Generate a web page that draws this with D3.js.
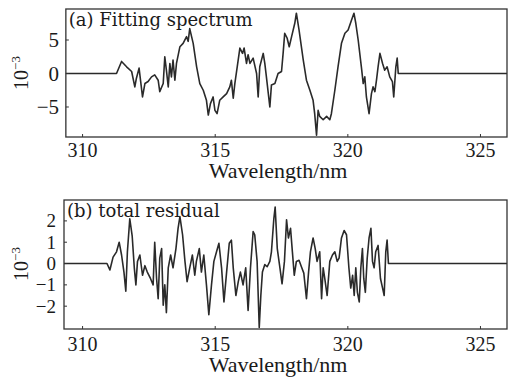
<!DOCTYPE html>
<html>
<head>
<meta charset="utf-8">
<script src="https://cdn.jsdelivr.net/npm/d3@7"></script>
<style>
  html, body { margin: 0; padding: 0; background: #fff; }
  svg { display: block; }
</style>
</head>
<body>
<figure id="chart" style="margin:0"></figure>
<script>
// (a) fitting spectrum, x in nm, y in 1e-3
const topWl = [
  309.37, 311.28, 311.47, 311.66, 311.85, 311.97, 312.03, 312.13, 312.26, 312.35,
  312.47, 312.60, 312.72, 312.85, 312.91, 313.04, 313.10, 313.16, 313.23, 313.29,
  313.35, 313.41, 313.48, 313.54, 313.67, 313.79, 313.92, 313.98, 314.04, 314.11,
  314.17, 314.30, 314.42, 314.55, 314.67, 314.74, 314.82, 314.92, 314.99, 315.07,
  315.17, 315.30, 315.43, 315.55, 315.61, 315.68, 315.74, 315.83, 315.93, 316.03,
  316.09, 316.18, 316.24, 316.31, 316.43, 316.56, 316.62, 316.68, 316.81, 316.87,
  316.93, 317.06, 317.12, 317.25, 317.37, 317.50, 317.56, 317.62, 317.71, 317.79,
  317.88, 318.00, 318.06, 318.16, 318.32, 318.44, 318.57, 318.69, 318.75, 318.82,
  318.88, 318.94, 319.07, 319.20, 319.32, 319.38, 319.51, 319.63, 319.76, 319.89,
  320.01, 320.14, 320.23, 320.30, 320.39, 320.51, 320.58, 320.64, 320.70, 320.80,
  320.89, 320.95, 321.02, 321.08, 321.14, 321.21, 321.31, 321.39, 321.48, 321.58,
  321.68, 321.73, 321.81, 321.86, 321.90, 326.00
];
const topVal = [
  0, 0, 1.8, 1.0, 0.3, -2.0, -0.7, 0.8, -3.5, -1.5,
  -1.2, -0.5, -0.2, -1.0, -2.7, -1.5, 2.5, 0.5, -2.0, 1.5,
  -0.5, 2.0, -1.0, 1.5, 4.0, 4.5, 5.5, 4.8, 6.7, 5.5,
  4.5, 1.0, -1.5, -2.5, -4.0, -6.2, -4.5, -3.5, -5.5, -6.0,
  -4.0, -3.5, -3.0, -2.0, -1.0, -3.7, -1.5, 1.0, 3.8, 3.0,
  3.8, 1.5, 2.8, 1.5, 2.3, 0.0, -3.5, 1.0, 3.0, 1.5,
  -0.5, -5.0, -1.7, -1.5, 0.0, 0.3, 3.0, 6.0, 5.3, 4.0,
  5.5, 7.5, 9.0, 6.5, 2.0, -1.0, -2.5, -4.0, -6.0, -9.2,
  -5.5, -6.4, -6.9, -6.4, -6.9, -6.0, -2.5, 1.0, 4.5, 6.0,
  6.5, 8.0, 9.0, 7.5, 5.0, 1.0, -1.5, -0.5, -3.5, -6.0,
  -3.0, -2.0, -2.7, -1.0, 1.0, 3.0, 1.5, 0.5, 1.0, -0.5,
  -1.2, -3.5, 1.0, 2.3, 0, 0
];

// (b) total residual
const resWl = [
  309.30, 310.92, 311.03, 311.15, 311.28, 311.38, 311.47, 311.56, 311.63, 311.69,
  311.78, 311.87, 311.95, 312.01, 312.07, 312.16, 312.26, 312.35, 312.44, 312.56,
  312.66, 312.72, 312.79, 312.85, 312.91, 312.98, 313.04, 313.10, 313.16, 313.23,
  313.32, 313.41, 313.52, 313.60, 313.67, 313.77, 313.86, 313.94, 314.04, 314.14,
  314.23, 314.29, 314.40, 314.48, 314.57, 314.67, 314.76, 314.86, 314.95, 315.05,
  315.14, 315.24, 315.33, 315.43, 315.53, 315.61, 315.68, 315.78, 315.87, 315.95,
  316.05, 316.15, 316.24, 316.33, 316.43, 316.49, 316.58, 316.66, 316.72, 316.78,
  316.87, 316.96, 317.06, 317.12, 317.21, 317.26, 317.34, 317.44, 317.52, 317.61,
  317.69, 317.76, 317.84, 317.91, 317.98, 318.06, 318.16, 318.25, 318.34, 318.44,
  318.52, 318.59, 318.69, 318.77, 318.84, 318.94, 319.01, 319.07, 319.13, 319.22,
  319.32, 319.42, 319.51, 319.60, 319.67, 319.76, 319.86, 319.95, 320.04, 320.11,
  320.18, 320.24, 320.30, 320.36, 320.43, 320.49, 320.55, 320.60, 320.66, 320.73,
  320.80, 320.87, 320.93, 320.99, 321.05, 321.14, 321.23, 321.31, 321.37, 321.43,
  321.48, 321.53, 326.00
];
const resVal = [
  0, 0, -0.3, 0.3, 0.55, 1.0, 0.4, -0.4, -1.3, 0.55,
  2.1, 1.3, -0.2, -1.0, 0.1, 0.4, -0.55, -0.1, -0.4, -0.7,
  -1.0, 1.0, -0.7, -1.65, 0.25, 0.7, -1.95, -1.0, -2.3, -0.2,
  0.4, -0.2, 0.7, 1.65, 2.2, 1.35, 0.1, -0.85, -0.2, 0.4,
  -0.55, 0.1, 0.7, -0.4, 0.4, -1.0, -2.4, -1.0, 0.1, 0.55,
  0.95, -0.2, -1.8, -0.4, 0.95, 1.1, -0.2, -1.5, -0.85, -0.4,
  -1.0, -0.2, -2.2, -0.2, 1.5, 1.35, 0.1, -3.0, -1.5, -0.4,
  -0.05, -0.15, 0.1, 0.55, 2.1, 2.65, 0.7, -0.2, -0.95, 0.1,
  2.05, 1.2, 1.65, 0.55, -0.55, 0.1, 0.15, -0.15, -0.45, -1.65,
  -0.4, 0.55, 1.2, 0.7, 0.1, 0.55, -1.65, -0.2, -0.7, -1.5,
  0.1, 0.4, 0.55, 0.1, 0.25, 1.2, 1.55, 1.35, -0.2, -1.15,
  -0.55, -1.5, -0.2, -1.35, -1.8, -0.2, 0.7, -0.7, -1.35, 0.25,
  1.2, 1.65, 0.1, -0.2, 0.55, 0.85, -0.7, -1.15, -1.5, 0.55,
  1.1, 0, 0
];

const xTicks = [310, 315, 320, 325];
const topYTicks = [5, 0, -5];
const resYTicks = [2, 1, 0, -1, -2];
const xTitle = "Wavelength/nm";

const width = 509, height = 378;
const serif = "Liberation Serif";
const serif2 = "DejaVu Serif";
const ink = "#1a1a1a";

const svg = d3.select("figure#chart")
  .append("svg")
  .attr("width", width)
  .attr("height", height);

// shared wavelength scale
const x = d3.scaleLinear().domain([309.30, 326.0]).range([64, 507]);

function drawPanel(opt) {
  const y = d3.scaleLinear().domain(opt.yDomain).range([opt.bottom, opt.top]);
  const left = x(opt.wl[0]);
  const right = x(326.0);
  const g = svg.append("g");

  // data line
  const pts = opt.wl.map((w, i) => [w, opt.val[i]]);
  g.append("path")
    .datum(pts)
    .attr("fill", "none")
    .attr("stroke", "#2a2a2a")
    .attr("stroke-width", 1.6)
    .attr("stroke-linejoin", "round")
    .attr("d", d3.line().x(d => x(d[0])).y(d => y(d[1])));

  // frame
  g.append("rect")
    .attr("x", left)
    .attr("y", opt.top)
    .attr("width", right - left)
    .attr("height", opt.bottom - opt.top)
    .attr("fill", "none")
    .attr("stroke", "#333")
    .attr("stroke-width", 1.3);

  // small inward ticks
  g.append("g").selectAll("line")
    .data(opt.yTicks)
    .join("line")
    .attr("x1", left).attr("x2", left + 3)
    .attr("y1", d => y(d)).attr("y2", d => y(d))
    .attr("stroke", "#333");

  g.append("g").selectAll("line")
    .data(xTicks)
    .join("line")
    .attr("x1", d => x(d)).attr("x2", d => x(d))
    .attr("y1", opt.bottom).attr("y2", opt.bottom - 3)
    .attr("stroke", "#333");

  // y tick labels
  g.append("g").selectAll("text")
    .data(opt.yTicks)
    .join("text")
    .attr("x", opt.labelRight)
    .attr("y", d => y(d))
    .attr("dy", "0.34em")
    .attr("text-anchor", "end")
    .attr("font-family", serif)
    .attr("font-size", opt.yFont)
    .attr("fill", ink)
    .text(d => d < 0 ? "\u2212" + Math.abs(d) : d);

  // x tick labels
  g.append("g").selectAll("text")
    .data(xTicks)
    .join("text")
    .attr("x", d => x(d))
    .attr("y", opt.tickBase)
    .attr("text-anchor", "middle")
    .attr("font-family", serif)
    .attr("font-size", 20)
    .attr("fill", ink)
    .text(d => d);

  // x title
  g.append("text")
    .attr("x", 278)
    .attr("y", opt.titleBase)
    .attr("text-anchor", "middle")
    .attr("font-family", serif)
    .attr("font-size", 22)
    .attr("fill", ink)
    .text(xTitle);

  // y unit 10^-3, rotated
  const yl = g.append("text")
    .attr("transform", "translate(28," + opt.unitY + ") rotate(-90)")
    .attr("text-anchor", "middle")
    .attr("font-family", serif)
    .attr("font-size", 20)
    .attr("fill", ink);
  yl.append("tspan").text("10");
  yl.append("tspan").attr("dy", -8).attr("font-size", 13).text("\u22123");

  // panel label
  g.append("text")
    .attr("x", left + 3)
    .attr("y", opt.top + 17)
    .attr("font-family", serif2)
    .attr("font-size", 18)
    .attr("fill", ink)
    .text(opt.label);
}

drawPanel({
  wl: topWl, val: topVal, yDomain: [-9.48, 9.63], yTicks: topYTicks, yFont: 21,
  top: 9, bottom: 137, labelRight: 59, tickBase: 157, titleBase: 178,
  unitY: 73, label: "(a) Fitting spectrum"
});

drawPanel({
  wl: resWl, val: resVal, yDomain: [-3.07, 2.98], yTicks: resYTicks, yFont: 19,
  top: 200, bottom: 329, labelRight: 56, tickBase: 351, titleBase: 372,
  unitY: 264, label: "(b) total residual"
});
</script>
</body>
</html>
